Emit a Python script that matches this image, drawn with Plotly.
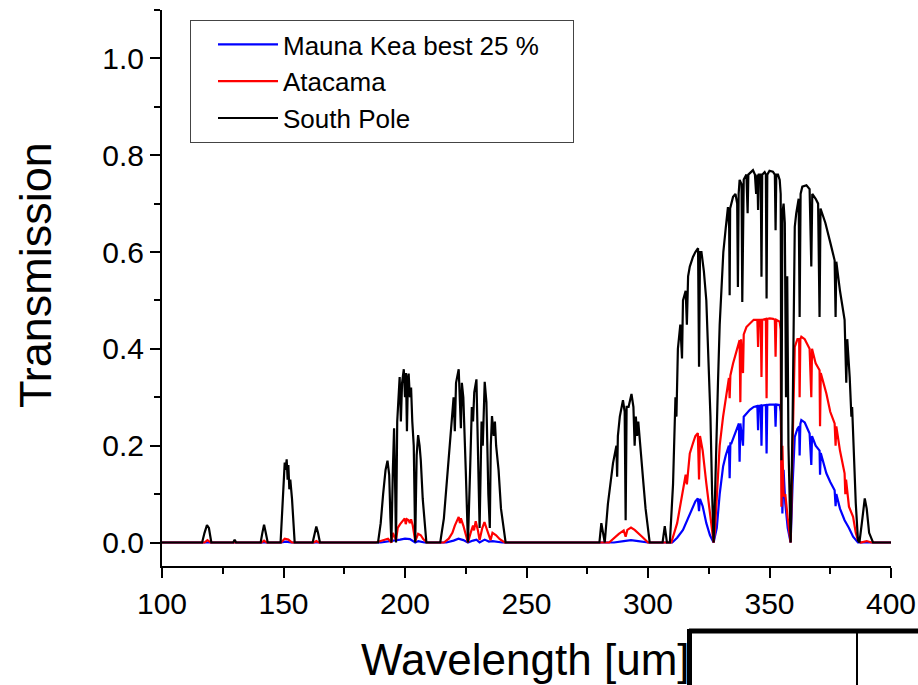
import plotly.graph_objects as go

# ---- data: (wavelength [um], transmission) ----
south_pole = [
    (100, 0), (116.5, 0), (117.5, 0.02), (118.5, 0.036), (119.3, 0.03), (120.3, 0.0),
    (129.3, 0), (129.9, 0.006), (130.5, 0),
    (140.6, 0), (141.3, 0.02), (142, 0.037), (142.7, 0.02), (143.5, 0),
    (148.8, 0), (149.5, 0.08), (150, 0.14), (150.5, 0.165), (150.9, 0.15), (151.3, 0.172),
    (151.7, 0.13), (152, 0.16), (152.4, 0.11), (152.8, 0.13), (153.5, 0.09), (154, 0.04), (154.6, 0),
    (162, 0), (162.8, 0.02), (163.5, 0.033), (164.2, 0.02), (165, 0),
    (188.9, 0), (190, 0.04), (191, 0.1), (192, 0.15), (192.8, 0.169), (193.5, 0.14), (194, 0.05),
    (194.4, 0), (195, 0.15), (195.5, 0.236), (196, 0.1), (196.3, 0.0), (196.8, 0.25), (197.8, 0.342),
    (198.3, 0.25), (198.8, 0.33), (199.5, 0.358), (200, 0.3), (200.4, 0.35), (200.8, 0.23),
    (201.2, 0.34), (201.5, 0.349), (202, 0.3), (202.5, 0.32), (203, 0.25), (203.6, 0.2), (204.2, 0),
    (204.8, 0.18), (205.4, 0.222), (206, 0.2), (206.5, 0.17), (207.3, 0.09), (208.8, 0),
    (214.5, 0), (216, 0.05), (217.5, 0.15), (219.1, 0.256), (220, 0.3), (220.5, 0.23), (221, 0.33),
    (222.1, 0.358), (222.6, 0.3), (223, 0.236), (223.4, 0.33), (224, 0.3), (225, 0.15), (225.9, 0),
    (226.8, 0.15), (227.5, 0.28), (228, 0.25), (228.5, 0.31), (229.4, 0.337), (230, 0.2),
    (230.7, 0.03), (231.5, 0.25), (232, 0.2), (232.8, 0.332), (233.5, 0.29), (234.3, 0.1),
    (234.9, 0.03), (235.3, 0.2), (235.8, 0.261), (236.5, 0.22), (237, 0.25), (237.5, 0.2),
    (238.5, 0.15), (239.5, 0.07), (241.4, 0),
    (280, 0), (280.8, 0.04), (281.5, 0.02), (282.2, 0), (283.5, 0.08), (285.6, 0.164), (287, 0.2),
    (287.3, 0.136), (287.6, 0.22), (288.4, 0.26), (289.7, 0.294), (290.4, 0.27), (290.8, 0.046),
    (291.2, 0.28), (292, 0.28), (293.2, 0.307), (294, 0.28), (294.5, 0.2), (295, 0.26),
    (295.5, 0.22), (296, 0.25), (297, 0.18), (298, 0.129), (299, 0.07), (300, 0.026), (300.7, 0),
    (306, 0), (306.9, 0.034), (307.8, 0),
    (309, 0), (310.3, 0.12), (311.3, 0.3), (311.7, 0.26), (312, 0.36), (312.3, 0.40), (313.3, 0.45),
    (314, 0.38), (314.4, 0.50), (315.5, 0.52), (316, 0.45), (316.5, 0.55), (317.2, 0.57),
    (318.5, 0.59), (319.5, 0.6), (320.6, 0.608), (321, 0.363), (321.4, 0.6), (322, 0.60),
    (323, 0.56), (324, 0.50), (325, 0.38), (325.7, 0.26), (326.4, 0.1), (327, 0),
    (327.6, 0.1), (328.2, 0.25), (328.8, 0.33), (329.5, 0.45), (330.2, 0.535), (331, 0.6),
    (332, 0.65), (332.9, 0.693), (333.4, 0.65), (333.6, 0.511), (333.8, 0.69), (335, 0.714),
    (336, 0.72), (336.7, 0.7), (337, 0.528), (337.3, 0.72), (337.7, 0.749), (338.5, 0.74),
    (338.8, 0.497), (339.1, 0.583), (339.4, 0.75), (340.5, 0.76), (341, 0.68), (341.3, 0.76),
    (343.2, 0.769), (344, 0.76), (344.5, 0.72), (345, 0.76), (345.3, 0.687), (345.6, 0.76),
    (346.4, 0.76), (346.7, 0.549), (347, 0.76), (348, 0.765), (348.5, 0.76), (348.8, 0.504),
    (349.1, 0.76), (350, 0.768), (351.4, 0.766), (352.2, 0.76), (352.5, 0.645), (352.8, 0.76),
    (353.5, 0.76), (354.2, 0.749), (354.6, 0.72), (354.9, 0.17), (355.3, 0.68), (355.8, 0.7),
    (356.3, 0.66), (356.8, 0.3), (357.3, 0.55), (357.8, 0.2), (358.7, 0), (359.5, 0.25),
    (360.4, 0.652), (361, 0.68), (362, 0.71), (362.4, 0.466), (362.8, 0.72), (363.5, 0.735),
    (365.2, 0.738), (366.5, 0.73), (367.2, 0.57), (367.6, 0.72), (369, 0.71), (370, 0.7),
    (370.6, 0.466), (371, 0.69), (373, 0.66), (375, 0.62), (376.8, 0.583), (377.2, 0.466),
    (377.5, 0.58), (379, 0.52), (380.9, 0.46), (381.6, 0.33), (382, 0.42), (383, 0.342),
    (383.7, 0.26), (384, 0.28), (384.4, 0.218), (385, 0.15), (385.5, 0.081), (386.4, 0.005),
    (387, 0), (388, 0.04), (389.2, 0.091), (390, 0.07), (391, 0.02), (392.6, 0), (400, 0),
]

atacama = [
    (100, 0), (117.5, 0), (118.7, 0.005), (120, 0), (141, 0), (142, 0.004), (143, 0),
    (149, 0), (150.5, 0.008), (152, 0.006), (153.5, 0), (162.5, 0), (163.5, 0.003), (164.5, 0),
    (188, 0), (190, 0.003), (193, 0.008), (194.4, 0), (195, 0.02), (196.3, 0.005), (197, 0.03),
    (198, 0.038), (199, 0.045), (199.9, 0.05), (200.3, 0.038), (200.8, 0.048), (201.5, 0.046),
    (202, 0.04), (202.5, 0.048), (203.2, 0.035), (204.2, 0.003), (205.4, 0.018), (206.5, 0.015),
    (207.5, 0.007), (209, 0),
    (216, 0), (218, 0.008), (219.5, 0.02), (220.5, 0.035), (221.3, 0.045), (222.1, 0.053),
    (222.6, 0.04), (223, 0.05), (224, 0.035), (225, 0.015), (225.9, 0), (227, 0.02), (228, 0.035),
    (228.4, 0.025), (229.1, 0.044), (230, 0.025), (230.7, 0.005), (231.8, 0.03), (232.7, 0.042),
    (233.5, 0.03), (234.5, 0.012), (235.2, 0.005), (236, 0.02), (237.5, 0.015), (239, 0.007), (241, 0),
    (284, 0), (286, 0.01), (288, 0.018), (290, 0.025), (290.8, 0.012), (291.5, 0.026), (293, 0.031),
    (294.5, 0.026), (296, 0.02), (298, 0.01), (300, 0),
    (309.6, 0), (312, 0.04), (314.4, 0.108), (315.5, 0.14), (316, 0.12), (317.2, 0.184),
    (318.5, 0.205), (319.5, 0.22), (320.5, 0.226), (321, 0.13), (321.4, 0.22), (322.5, 0.19),
    (324, 0.122), (325, 0.08), (326.1, 0.04), (327, 0.0),
    (327.6, 0.03), (328.5, 0.12), (329.5, 0.2), (330.9, 0.26), (332, 0.3), (333.3, 0.34),
    (333.6, 0.298), (333.9, 0.345), (335, 0.37), (336.5, 0.4), (337.7, 0.418), (338, 0.29),
    (338.3, 0.42), (339.1, 0.35), (339.4, 0.43), (340.5, 0.445), (341.9, 0.453), (343.5, 0.46),
    (345, 0.46), (345.3, 0.404), (345.6, 0.46), (346.4, 0.46), (346.7, 0.342), (347, 0.46),
    (348.5, 0.462), (348.8, 0.298), (349.1, 0.462), (350.1, 0.463), (351.5, 0.462), (352.2, 0.46),
    (352.5, 0.384), (352.8, 0.46), (354.2, 0.456), (354.6, 0.44), (354.9, 0.074), (355.3, 0.2),
    (355.8, 0.095), (356.5, 0.1), (357.5, 0.05), (358.7, 0), (359.5, 0.2), (360.4, 0.404),
    (361.5, 0.42), (362.2, 0.42), (362.4, 0.3), (362.7, 0.42), (363.1, 0.425), (364.5, 0.42),
    (366.5, 0.40), (367.2, 0.3), (367.5, 0.4), (369, 0.37), (370.6, 0.356), (370.8, 0.24),
    (371.1, 0.35), (373.4, 0.308), (375, 0.27), (376.8, 0.246), (377.2, 0.2), (377.5, 0.24),
    (379, 0.19), (380.2, 0.157), (380.9, 0.143), (381.2, 0.1), (381.5, 0.13), (382.7, 0.074),
    (384.4, 0.053), (385.5, 0.02), (386.4, 0.005), (387.5, 0), (390, 0.003), (392, 0), (400, 0),
]

mauna_kea = [
    (100, 0), (149, 0), (151, 0.002), (153, 0), (190, 0), (195, 0.003), (198, 0.006),
    (200, 0.008), (202, 0.007), (204.2, 0), (205.5, 0.003), (208, 0), (217, 0), (220, 0.004),
    (222, 0.008), (224, 0.005), (225.9, 0), (228, 0.004), (229.4, 0.006), (230.7, 0),
    (232.8, 0.006), (234.5, 0.002), (236, 0.003), (240, 0), (286, 0), (290, 0.003), (293, 0.005),
    (296, 0.003), (300, 0),
    (310, 0), (312, 0.01), (314.4, 0.026), (316, 0.045), (317.2, 0.06), (318.5, 0.075),
    (319.5, 0.085), (320.5, 0.091), (321, 0.065), (321.4, 0.09), (322.5, 0.075), (324, 0.04),
    (325.5, 0.015), (327, 0),
    (328.3, 0.03), (329.5, 0.1), (330.9, 0.157), (332, 0.18), (333.3, 0.2), (333.6, 0.133),
    (333.9, 0.205), (334.3, 0.205), (336, 0.23), (337.4, 0.246), (337.7, 0.167), (338, 0.246),
    (339.1, 0.2), (339.4, 0.26), (341.9, 0.274), (343.5, 0.28), (345, 0.282), (345.3, 0.232),
    (345.6, 0.282), (346.4, 0.283), (346.7, 0.2), (347, 0.283), (348.5, 0.284), (348.8, 0.184),
    (349.1, 0.284), (350.1, 0.285), (352.2, 0.285), (352.5, 0.239), (352.8, 0.285), (354.2, 0.284),
    (354.6, 0.27), (355.3, 0.06), (355.8, 0.15), (356.5, 0.08), (357.5, 0.03), (358.7, 0),
    (359.5, 0.12), (360.4, 0.218), (361.5, 0.235), (362.2, 0.24), (362.4, 0.18), (362.7, 0.245),
    (363.1, 0.253), (364.5, 0.248), (366.5, 0.225), (367.2, 0.16), (367.5, 0.22), (369, 0.2),
    (370.6, 0.19), (370.8, 0.14), (371.1, 0.185), (373.4, 0.143), (375, 0.125), (376.8, 0.108),
    (377.2, 0.075), (377.5, 0.1), (379, 0.07), (380.2, 0.053), (380.9, 0.046), (382.7, 0.03),
    (384.4, 0.012), (386.4, 0), (400, 0),
]

series_names = ["Mauna Kea best 25 %", "Atacama", "South Pole"]
series_data = [mauna_kea, atacama, south_pole]
series_colors = ["#0000ff", "#ff0000", "#000000"]

x_ticks = [100, 150, 200, 250, 300, 350, 400]
y_ticks = [0.0, 0.2, 0.4, 0.6, 0.8, 1.0]

FONT = "Liberation Sans, Arial, sans-serif"
W, H = 918, 685
ML, MR, MT, MB = 162, 27, 10, 119
PW, PH = W - ML - MR, H - MT - MB


def px(x):
    return (x - ML) / PW


def py(y):
    return (H - MB - y) / PH


fig = go.Figure()
for name, pts, col in zip(series_names, series_data, series_colors):
    label = name + "\u00a0\u00a0\u00a0\u00a0" if name == series_names[0] else name
    fig.add_trace(go.Scatter(
        x=[p[0] for p in pts], y=[p[1] for p in pts], mode="lines", name=label,
        line=dict(color=col, width=2.2),
    ))

axis_common = dict(
    showline=True, linecolor="black", linewidth=2, ticks="outside", ticklen=10,
    tickwidth=2, tickcolor="black", showgrid=False, zeroline=False, automargin=False,
    tickfont=dict(family=FONT, size=30, color="black"),
)
fig.update_xaxes(range=[100, 400], tickvals=x_ticks, ticktext=[str(v) for v in x_ticks],
                 minor=dict(dtick=25, ticklen=6, tickwidth=2, tickcolor="black", ticks="outside"),
                 **axis_common)
fig.update_yaxes(range=[-0.0485, 1.1], tickvals=y_ticks, ticktext=[f"{v:.1f}" for v in y_ticks],
                 minor=dict(dtick=0.1, tick0=0, ticklen=6, tickwidth=2, tickcolor="black", ticks="outside"),
                 **axis_common)

fig.add_annotation(text="Transmission", xref="paper", yref="paper", x=px(35), y=py(275),
                   textangle=-90, showarrow=False, font=dict(family=FONT, size=45, color="black"),
                   xanchor="center", yanchor="middle")
fig.add_annotation(text="Wavelength [um]", xref="paper", yref="paper", x=px(525), y=py(659),
                   showarrow=False, font=dict(family=FONT, size=44, color="black"),
                   xanchor="center", yanchor="middle")

# fragment of a neighbouring frame at the bottom right
fig.add_shape(type="line", xref="paper", yref="paper", x0=px(689), x1=px(930), y0=py(631), y1=py(631),
              line=dict(color="black", width=5))
fig.add_shape(type="line", xref="paper", yref="paper", x0=px(689.5), x1=px(689.5), y0=py(629), y1=py(700),
              line=dict(color="black", width=5))
fig.add_shape(type="line", xref="paper", yref="paper", x0=px(857), x1=px(857), y0=py(631), y1=py(700),
              line=dict(color="black", width=2))

fig.update_layout(
    width=W, height=H, margin=dict(l=ML, r=MR, t=MT, b=MB, autoexpand=False),
    paper_bgcolor="white", plot_bgcolor="white",
    showlegend=True,
    legend=dict(x=px(190), y=py(20), xanchor="left", yanchor="top",
                bgcolor="white", bordercolor="#444", borderwidth=1,
                font=dict(family=FONT, size=26, color="black"),
                itemwidth=60, indentation=22, traceorder="normal"),
)

fig.write_html("out.html", config={"displayModeBar": False},
               post_script="document.body.style.margin='0px';document.body.style.overflow='hidden';")
